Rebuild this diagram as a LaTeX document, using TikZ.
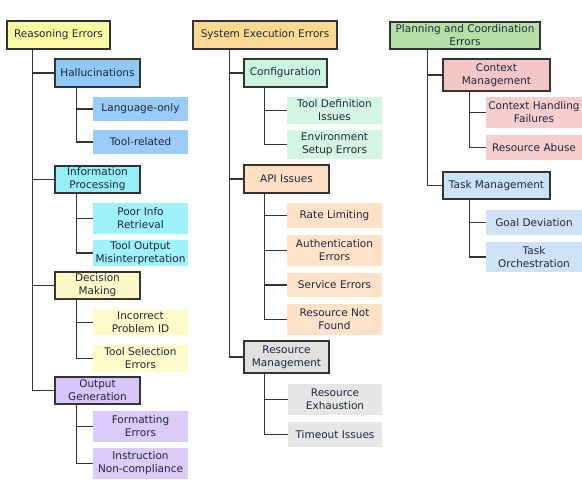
\documentclass[tikz,border=0pt]{standalone}
\usepackage{fontspec}
\setmainfont{DejaVu Sans}
\begin{document}
\begin{tikzpicture}[x=1pt,y=-1pt,
  box/.style={draw=black!80, line width=1.2pt, inner sep=0pt, align=center, text=txt,
    font=\fontsize{10.5}{12.9}\selectfont},
  leaf/.style={draw=none, inner sep=0pt, align=center, text=txt,
    font=\fontsize{10.5}{12.9}\selectfont},
  conn/.style={draw=black!80, line width=1.4pt},
]
\definecolor{txt}{RGB}{30,38,64}
\definecolor{cRE}{HTML}{FAFAA0}
\definecolor{cHA}{HTML}{90C8F6}\definecolor{cHAl}{HTML}{99CCF8}
\definecolor{cIP}{HTML}{95EEF8}\definecolor{cIPl}{HTML}{9FF2FA}
\definecolor{cDM}{HTML}{FFF8C4}\definecolor{cDMl}{HTML}{FFFAC8}
\definecolor{cOG}{HTML}{D8C4F8}\definecolor{cOGl}{HTML}{DCCAF8}
\definecolor{cSE}{HTML}{FFD98F}
\definecolor{cCF}{HTML}{CCF5E0}\definecolor{cCFl}{HTML}{D4F5E4}
\definecolor{cAP}{HTML}{FFE0C4}\definecolor{cAPl}{HTML}{FFE2C8}
\definecolor{cRM}{HTML}{E0E0E0}\definecolor{cRMl}{HTML}{E6E6E6}
\definecolor{cPC}{HTML}{B5E0A5}
\definecolor{cCM}{HTML}{F5C6C6}\definecolor{cCMl}{HTML}{F8CDCD}
\definecolor{cTM}{HTML}{CCE2F8}\definecolor{cTMl}{HTML}{CFE3F8}
\useasboundingbox[fill=white] (0,0) rectangle (582,487);

% Column 1
\node[box, fill=cRE, minimum width=103, minimum height=28] (re) at (58.5,35) {Reasoning Errors};
\node[box, fill=cHA, minimum width=85, minimum height=28] (hal) at (97.5,73) {Hallucinations};
\node[leaf, fill=cHAl, minimum width=95, minimum height=24] (lo) at (140.5,109) {Language-only};
\node[leaf, fill=cHAl, minimum width=95, minimum height=24] (tr) at (140.5,142) {Tool-related};
\node[box, fill=cIP, minimum width=85, minimum height=27] (ip) at (97.5,179.5) {Information\\Processing};
\node[leaf, fill=cIPl, minimum width=95, minimum height=31] (pir) at (140.5,218.5) {Poor Info\\Retrieval};
\node[leaf, fill=cIPl, minimum width=95, minimum height=26] (tom) at (140.5,253) {Tool Output\\Misinterpretation};
\node[box, fill=cDM, minimum width=85, minimum height=27] (dm) at (97.5,285.5) {Decision\\Making};
\node[leaf, fill=cDMl, minimum width=95, minimum height=25] (ipi) at (140.5,322.5) {Incorrect\\Problem ID};
\node[leaf, fill=cDMl, minimum width=95, minimum height=27] (tse) at (140.5,358.5) {Tool Selection\\Errors};
\node[box, fill=cOG, minimum width=85, minimum height=27] (og) at (97.5,390.5) {Output\\Generation};
\node[leaf, fill=cOGl, minimum width=95, minimum height=31] (fe) at (140.5,426.5) {Formatting\\Errors};
\node[leaf, fill=cOGl, minimum width=95, minimum height=31] (inc) at (140.5,463.5) {Instruction\\Non-compliance};

% Column 2
\node[box, fill=cSE, minimum width=144, minimum height=28] (se) at (265,35) {System Execution Errors};
\node[box, fill=cCF, minimum width=83, minimum height=28] (cf) at (285.5,73) {Configuration};
\node[leaf, fill=cCFl, minimum width=95, minimum height=27] (tdi) at (334.5,110.5) {Tool Definition\\Issues};
\node[leaf, fill=cCFl, minimum width=95, minimum height=29] (esu) at (334.5,144.5) {Environment\\Setup Errors};
\node[box, fill=cAP, minimum width=85, minimum height=28] (api) at (286.5,179) {API Issues};
\node[leaf, fill=cAPl, minimum width=95, minimum height=25] (rl) at (334.5,215.5) {Rate Limiting};
\node[leaf, fill=cAPl, minimum width=95, minimum height=31] (ae) at (334.5,250.5) {Authentication\\Errors};
\node[leaf, fill=cAPl, minimum width=95, minimum height=24] (ser) at (334.5,285) {Service Errors};
\node[leaf, fill=cAPl, minimum width=95, minimum height=31] (rnf) at (334.5,319.5) {Resource Not\\Found};
\node[box, fill=cRM, minimum width=85, minimum height=32] (rm) at (286.5,357) {Resource\\Management};
\node[leaf, fill=cRMl, minimum width=94, minimum height=31] (rex) at (335,399.5) {Resource\\Exhaustion};
\node[leaf, fill=cRMl, minimum width=94, minimum height=25] (ti) at (335,434.5) {Timeout Issues};

% Column 3
\node[box, fill=cPC, minimum width=150, minimum height=27] (pc) at (465,35.5) {Planning and Coordination\\Errors};
\node[box, fill=cCM, minimum width=107, minimum height=32] (cm) at (496.5,75) {Context\\Management};
\node[leaf, fill=cCMl, minimum width=96, minimum height=31] (chf) at (534,112.5) {Context Handling\\Failures};
\node[leaf, fill=cCMl, minimum width=96, minimum height=25] (ra) at (534,147.5) {Resource Abuse};
\node[box, fill=cTM, minimum width=107, minimum height=27] (tm) at (496.5,185.5) {Task Management};
\node[leaf, fill=cTMl, minimum width=96, minimum height=25] (gd) at (534,222.5) {Goal Deviation};
\node[leaf, fill=cTMl, minimum width=96, minimum height=30] (to) at (534,257) {Task\\Orchestration};

% Connectors
\foreach \c in {hal,ip,dm,og} \draw[conn] ([xshift=26pt]re.south west) |- (\c.west);
\foreach \c in {lo,tr} \draw[conn] ([xshift=22pt]hal.south west) |- (\c.west);
\foreach \c in {pir,tom} \draw[conn] ([xshift=22pt]ip.south west) |- (\c.west);
\foreach \c in {ipi,tse} \draw[conn] ([xshift=22pt]dm.south west) |- (\c.west);
\foreach \c in {fe,inc} \draw[conn] ([xshift=22pt]og.south west) |- (\c.west);

\foreach \c in {cf,api,rm} \draw[conn] ([xshift=37pt]se.south west) |- (\c.west);
\foreach \c in {tdi,esu} \draw[conn] ([xshift=21pt]cf.south west) |- (\c.west);
\foreach \c in {rl,ae,ser,rnf} \draw[conn] ([xshift=21pt]api.south west) |- (\c.west);
\foreach \c in {rex,ti} \draw[conn] ([xshift=21pt]rm.south west) |- (\c.west);

\foreach \c in {cm,tm} \draw[conn] ([xshift=38pt]pc.south west) |- (\c.west);
\foreach \c in {chf,ra} \draw[conn] ([xshift=27pt]cm.south west) |- (\c.west);
\foreach \c in {gd,to} \draw[conn] ([xshift=27pt]tm.south west) |- (\c.west);
\end{tikzpicture}
\end{document}
